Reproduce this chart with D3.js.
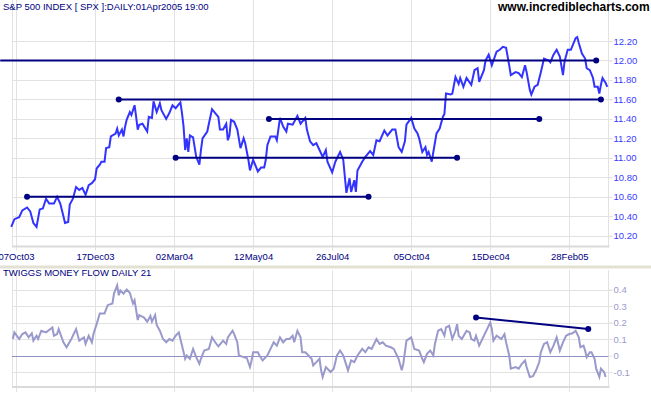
<!DOCTYPE html>
<html>
<head>
<meta charset="utf-8">
<script src="https://cdn.jsdelivr.net/npm/d3@7"></script>
<style>
body { margin: 0; background: #fff; }
text { font-family: "Liberation Sans", Arial, sans-serif; }
</style>
</head>
<body>
<div id="chart"></div>
<script>
// x axis: trading day number counted from 07Oct03
const tickDays = [0, 50, 100, 150, 200, 250, 300, 350];
const tickLabels = ["07Oct03", "17Dec03", "02Mar04", "12May04", "26Jul04", "05Oct04", "15Dec04", "28Feb05"];
const priceTicks = [10.2, 10.4, 10.6, 10.8, 11.0, 11.2, 11.4, 11.6, 11.8, 12.0, 12.2];
const mfTicks = [-0.1, 0, 0.1, 0.2, 0.3, 0.4];

const priceDays = [-3, -1, 2, 4, 7, 9, 11, 13, 15, 17, 19, 21, 24, 26, 28, 30, 31, 33, 34, 36, 38, 40, 42, 44, 46, 48,
  50, 51, 53, 54, 56, 57, 59, 60, 63, 64, 65, 67, 68, 69, 70, 72, 73, 75, 76, 77, 78, 80, 83, 84, 86, 87, 89, 91, 92, 95, 97, 99,
  101, 104, 105, 106, 107, 108, 109, 110, 112, 114, 116, 117, 118, 121, 122, 124, 126, 128, 129, 131, 133, 134, 135, 136, 138, 140, 142, 144, 145, 147, 148,
  150, 153, 155, 157, 158, 159, 161, 164, 165, 167, 169, 171, 172, 175, 178, 180, 183, 184, 186, 188, 190, 192, 194, 196, 197,
  200, 202, 205, 207, 208, 209, 211, 212, 214, 215, 216, 219, 221, 224, 226, 228, 230, 233, 235, 238, 240, 242, 244, 246, 247,
  250, 252, 254, 255, 257, 259, 260, 261, 263, 264, 266, 268, 270, 271, 272, 275, 276, 278, 280, 281, 283, 285, 288, 290, 292, 293, 296, 297, 299,
  301, 304, 306, 308, 310, 312, 313, 316, 318, 320, 322, 323, 325, 326, 328, 330, 332, 334, 337, 338, 340, 342, 344, 346, 347, 349,
  351, 354, 355, 356, 358, 360, 361, 363, 365, 366, 368, 369, 370, 371, 373, 374];
const priceValues = [10.29, 10.37, 10.39, 10.46, 10.49, 10.45, 10.33, 10.29, 10.47, 10.48, 10.58, 10.53, 10.53, 10.60, 10.53, 10.40, 10.33, 10.34, 10.52, 10.58, 10.70, 10.67, 10.69, 10.62, 10.72, 10.74,
  10.78, 10.89, 10.93, 10.96, 10.96, 11.10, 11.11, 11.22, 11.25, 11.30, 11.23, 11.29, 11.22, 11.32, 11.39, 11.47, 11.44, 11.54, 11.42, 11.29, 11.34, 11.35, 11.27, 11.42, 11.41, 11.58, 11.47, 11.56, 11.49, 11.40, 11.46, 11.54,
  11.51, 11.57, 11.46, 11.32, 11.08, 11.20, 11.06, 11.23, 11.21, 11.01, 10.93, 11.08, 11.20, 11.27, 11.35, 11.50, 11.46, 11.42, 11.29, 11.29, 11.35, 11.18, 11.23, 11.39, 11.37, 11.29, 11.10, 11.20, 11.15, 10.98, 10.87,
  10.98, 10.86, 10.90, 10.90, 10.98, 11.13, 11.22, 11.22, 11.18, 11.41, 11.32, 11.27, 11.35, 11.34, 11.43, 11.35, 11.41, 11.29, 11.17, 11.13, 11.15, 11.08, 11.01, 11.08, 10.96,
  10.85, 10.96, 11.06, 10.98, 10.81, 10.64, 10.79, 10.65, 10.77, 10.65, 10.87, 10.96, 11.01, 11.07, 11.03, 11.18, 11.17, 11.28, 11.23, 11.29, 11.29, 11.11, 11.06, 11.17, 11.34,
  11.41, 11.30, 11.25, 11.20, 11.06, 11.11, 11.03, 11.06, 10.96, 11.06, 11.25, 11.30, 11.42, 11.45, 11.66, 11.65, 11.66, 11.83, 11.76, 11.82, 11.73, 11.82, 11.75, 11.90, 11.92, 11.78, 11.90, 12.00, 12.06,
  11.95, 12.09, 12.11, 12.14, 12.13, 11.95, 11.85, 11.88, 11.87, 11.83, 11.95, 11.88, 11.70, 11.65, 11.73, 11.75, 11.88, 12.02, 12.00, 11.98, 12.06, 12.11, 12.04, 11.85, 11.99, 12.11,
  12.11, 12.23, 12.24, 12.18, 12.07, 12.02, 11.92, 11.90, 11.82, 11.73, 11.73, 11.66, 11.75, 11.82, 11.77, 11.73];

const mfDays = [-2, -1, 2, 4, 6, 8, 10, 11, 13, 14, 16, 19, 23, 24, 26, 27, 30, 32, 35, 38, 40, 43, 44, 46, 48, 49,
  51, 53, 56, 58, 61, 62, 64, 65, 66, 68, 70, 72, 74, 75, 77, 78, 81, 83, 85, 86, 88, 89, 91, 93, 95, 97, 99,
  101, 103, 104, 105, 107, 108, 110, 112, 114, 116, 117, 119, 122, 124, 126, 128, 131, 133, 134, 137, 138, 140, 141, 144, 146, 148, 149,
  150, 153, 154, 156, 159, 161, 163, 165, 167, 169, 171, 173, 175, 176, 178, 180, 181, 183, 185, 187, 188, 190, 192, 193, 194, 196, 199,
  201, 203, 205, 207, 209, 210, 212, 214, 216, 219, 221, 223, 225, 228, 230, 232, 234, 237, 239, 240, 242, 244, 245, 247,
  250, 252, 255, 257, 258, 260, 262, 264, 265, 267, 269, 271, 272, 274, 276, 278, 279, 280, 282, 285, 287, 288, 290, 291, 293, 296, 298,
  300, 301, 302, 304, 307, 309, 310, 312, 313, 316, 318, 320, 322, 323, 325, 327, 329, 331, 332, 334, 336, 338, 340, 342, 344, 346, 348,
  350, 352, 354, 356, 357, 359, 360, 361, 363, 364, 366, 367, 369, 370, 372, 373];
const mfValues = [0.10, 0.14, 0.10, 0.13, 0.14, 0.11, 0.135, 0.09, 0.12, 0.10, 0.15, 0.14, 0.17, 0.12, 0.13, 0.16, 0.08, 0.05, 0.10, 0.16, 0.09, 0.11, 0.07, 0.12, 0.08, 0.13,
  0.19, 0.255, 0.255, 0.305, 0.315, 0.375, 0.425, 0.365, 0.395, 0.375, 0.40, 0.38, 0.315, 0.335, 0.215, 0.245, 0.23, 0.205, 0.24, 0.205, 0.245, 0.185, 0.15, 0.10, 0.08, 0.10, 0.09,
  0.12, 0.14, 0.10, 0.06, -0.02, 0.00, -0.02, 0.04, -0.01, -0.05, -0.02, 0.03, 0.04, 0.11, 0.08, 0.055, 0.09, 0.07, 0.11, 0.15, 0.13, 0.08, 0.00, -0.01, -0.015, -0.07, -0.03,
  0.02, 0.02, 0.00, -0.03, 0.00, 0.04, 0.08, 0.06, 0.11, 0.08, 0.10, 0.10, 0.12, 0.08, 0.15, 0.11, 0.02, 0.02, 0.00, -0.02, -0.06, -0.04, -0.02, -0.09, -0.13, -0.07, -0.10,
  -0.08, 0.00, 0.03, 0.00, -0.06, -0.09, -0.03, -0.04, 0.00, 0.04, 0.02, 0.05, 0.04, 0.10, 0.07, 0.08, 0.06, 0.05, 0.04, 0.02, -0.02, -0.09, -0.05, 0.09,
  0.11, 0.04, 0.03, -0.02, -0.04, 0.01, 0.03, 0.00, 0.07, 0.15, 0.16, 0.12, 0.17, 0.18, 0.10, 0.15, 0.19, 0.12, 0.10, 0.15, 0.14, 0.10, 0.09, 0.12, 0.06, 0.12, 0.16,
  0.20, 0.16, 0.09, 0.12, 0.10, 0.13, 0.08, 0.00, -0.08, -0.07, -0.08, -0.05, -0.03, -0.07, -0.13, -0.125, -0.09, -0.04, 0.02, 0.07, 0.08, 0.02, 0.06, 0.11, 0.03, 0.08, 0.12,
  0.13, 0.135, 0.15, 0.11, 0.05, 0.06, 0.03, -0.01, 0.02, 0.02, -0.02, -0.08, -0.13, -0.08, -0.10, -0.13];

// support / resistance lines drawn on the price panel
const levelValues = [12.0, 11.6, 11.4, 11.0, 10.6];
const levelFrom = [-10, 65, 160, 101, 7];
const levelTo = [367, 370, 331, 279, 223];

// divergence line on the money flow panel
const mfTrendDays = [291, 362];
const mfTrendValues = [0.23, 0.16];

const width = 651, height = 395;
const left = 12, right = 608.5;
const topBottom = 246.5, mfTop = 270, mfBottom = 387;
const grid = "#e2e2e2";

const svg = d3.select("#chart").append("svg")
  .attr("width", width)
  .attr("height", height);

const x = d3.scaleLinear().domain([0, 350]).range([16, 569.3]);
const yP = d3.scaleLinear().domain([10.2, 12.2]).range([235.7, 41]);
const yM = d3.scaleLinear().domain([-0.1, 0.4]).range([372, 289.5]);

// vertical grid, both panels
svg.append("g").selectAll("line")
  .data(tickDays)
  .enter().append("line")
  .attr("x1", d => Math.round(x(d)) + 0.5)
  .attr("x2", d => Math.round(x(d)) + 0.5)
  .attr("y1", 0).attr("y2", topBottom + 4)
  .attr("stroke", grid);
svg.append("g").selectAll("line")
  .data(tickDays)
  .enter().append("line")
  .attr("x1", d => Math.round(x(d)) + 0.5)
  .attr("x2", d => Math.round(x(d)) + 0.5)
  .attr("y1", mfTop).attr("y2", mfBottom + 5)
  .attr("stroke", grid);

// horizontal grid
svg.append("g").selectAll("line")
  .data(priceTicks)
  .enter().append("line")
  .attr("x1", left).attr("x2", right + 4)
  .attr("y1", d => Math.round(yP(d)) + 0.5)
  .attr("y2", d => Math.round(yP(d)) + 0.5)
  .attr("stroke", grid);
svg.append("g").selectAll("line")
  .data(mfTicks.filter(d => d !== 0))
  .enter().append("line")
  .attr("x1", left).attr("x2", right + 4)
  .attr("y1", d => Math.round(yM(d)) + 0.5)
  .attr("y2", d => Math.round(yM(d)) + 0.5)
  .attr("stroke", grid);

// frames
svg.append("line").attr("x1", left + 0.5).attr("x2", left + 0.5).attr("y1", 0).attr("y2", topBottom).attr("stroke", grid);
svg.append("line").attr("x1", right).attr("x2", right).attr("y1", 0).attr("y2", topBottom).attr("stroke", grid);
svg.append("line").attr("x1", left).attr("x2", right + 1).attr("y1", topBottom).attr("y2", topBottom).attr("stroke", "#dadada").attr("stroke-width", 2);
svg.append("line").attr("x1", left + 0.5).attr("x2", left + 0.5).attr("y1", mfTop).attr("y2", mfBottom).attr("stroke", grid);
svg.append("line").attr("x1", right).attr("x2", right).attr("y1", mfTop).attr("y2", mfBottom).attr("stroke", grid);
svg.append("line").attr("x1", left).attr("x2", right + 1).attr("y1", mfBottom).attr("y2", mfBottom).attr("stroke", "#dadada").attr("stroke-width", 2);

// panel separator
svg.append("line").attr("x1", 0).attr("x2", width).attr("y1", 267).attr("y2", 267)
  .attr("stroke", "#e2e1d4").attr("stroke-width", 3);

// zero line of money flow
svg.append("line").attr("x1", left).attr("x2", right)
  .attr("y1", Math.round(yM(0)) + 0.5).attr("y2", Math.round(yM(0)) + 0.5)
  .attr("stroke", "#8f8fc4");

// axes
const xAxis = svg.append("g")
  .attr("transform", "translate(0," + topBottom + ")")
  .call(d3.axisBottom(x).tickValues(tickDays).tickFormat((d, i) => tickLabels[i]).tickSize(4).tickPadding(3));
xAxis.select(".domain").remove();
xAxis.selectAll("line").remove();
xAxis.selectAll("text").attr("fill", "#000080").style("font-size", "9.5px");

const pAxis = svg.append("g")
  .attr("transform", "translate(" + right + ",0)")
  .call(d3.axisRight(yP).tickValues(priceTicks).tickFormat(d3.format(".2f")).tickSize(4).tickPadding(1));
pAxis.select(".domain").remove();
pAxis.selectAll("line").attr("stroke", grid);
pAxis.selectAll("text").attr("fill", "#3a3aff").style("font-size", "9.5px");

const mAxis = svg.append("g")
  .attr("transform", "translate(" + right + ",0)")
  .call(d3.axisRight(yM).tickValues(mfTicks).tickFormat(d => String(d)).tickSize(4).tickPadding(1));
mAxis.select(".domain").remove();
mAxis.selectAll("line").attr("stroke", grid);
mAxis.selectAll("text").attr("fill", "#9a9acc").style("font-size", "9.5px");

// price
const priceLine = d3.line().x(d => x(d[0])).y(d => yP(d[1]));
svg.append("path")
  .datum(d3.zip(priceDays, priceValues))
  .attr("d", priceLine)
  .attr("fill", "none")
  .attr("stroke", "#3333ff")
  .attr("stroke-width", 2);

// level lines
const levels = levelValues.map((v, i) => ({ v: v, from: levelFrom[i], to: levelTo[i] }));
svg.append("g").selectAll("line")
  .data(levels)
  .enter().append("line")
  .attr("x1", d => Math.max(0, x(d.from)))
  .attr("x2", d => x(d.to))
  .attr("y1", d => yP(d.v))
  .attr("y2", d => yP(d.v))
  .attr("stroke", "#000080")
  .attr("stroke-width", 2);
const levelDots = [];
levels.forEach(d => {
  if (x(d.from) > left) levelDots.push([d.from, d.v]);
  levelDots.push([d.to, d.v]);
});
svg.append("g").selectAll("circle")
  .data(levelDots)
  .enter().append("circle")
  .attr("cx", d => x(d[0]))
  .attr("cy", d => yP(d[1]))
  .attr("r", 3)
  .attr("fill", "#000080");

// money flow
const mfLine = d3.line().x(d => x(d[0])).y(d => yM(d[1]));
svg.append("path")
  .datum(d3.zip(mfDays, mfValues))
  .attr("d", mfLine)
  .attr("fill", "none")
  .attr("stroke", "#9999cc")
  .attr("stroke-width", 2);

const trend = d3.zip(mfTrendDays, mfTrendValues);
svg.append("path")
  .datum(trend)
  .attr("d", mfLine)
  .attr("stroke", "#000080")
  .attr("stroke-width", 2);
svg.append("g").selectAll("circle")
  .data(trend)
  .enter().append("circle")
  .attr("cx", d => x(d[0]))
  .attr("cy", d => yM(d[1]))
  .attr("r", 3)
  .attr("fill", "#000080");

// titles
svg.append("text").attr("x", 3).attr("y", 10)
  .attr("fill", "#000080").style("font-size", "9.5px")
  .text("S&P 500 INDEX [ SPX ]:DAILY:01Apr2005 19:00");
svg.append("text").attr("x", 498).attr("y", 11)
  .attr("fill", "#000").style("font-size", "12px").style("font-weight", "bold")
  .text("www.incrediblecharts.com");
svg.append("text").attr("x", 3).attr("y", 276)
  .attr("fill", "#000080").style("font-size", "9.5px")
  .text("TWIGGS MONEY FLOW DAILY 21");
</script>
</body>
</html>
